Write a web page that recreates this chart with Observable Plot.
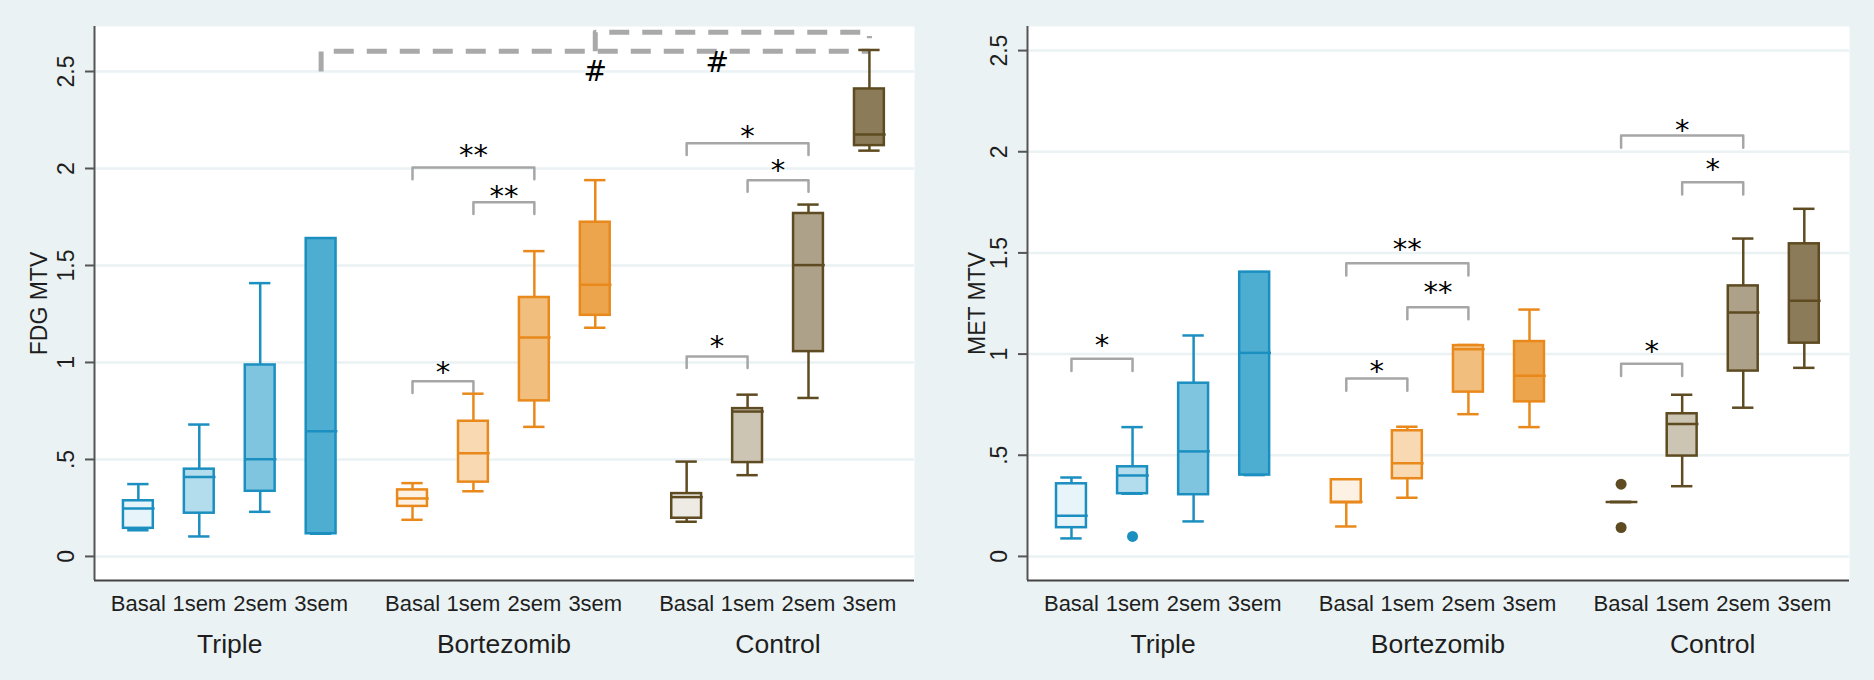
<!DOCTYPE html>
<html>
<head>
<meta charset="utf-8">
<script src="https://cdn.jsdelivr.net/npm/d3@7"></script>
<script src="https://cdn.jsdelivr.net/npm/@observablehq/plot@0.6"></script>
<style>
  html, body { margin: 0; padding: 0; background: #eaf2f3; }
  #charts { display: flex; width: 1874px; height: 680px; }
  #charts svg { display: block; flex: none; }
</style>
</head>
<body>
<div id="charts"></div>
<script>
// Treatment arms and imaging time points
const groups = ["Triple", "Bortezomib", "Control"];
const times = ["Basal", "1sem", "2sem", "3sem"];
const yTicks = [0, 0.5, 1, 1.5, 2, 2.5];

// FDG MTV box statistics, ordered Triple (Basal..3sem), Bortezomib, Control
const fdgLow    = [0.135, 0.103, 0.230, 0.117,  0.189, 0.336, 0.668, 1.179,  0.179, 0.419, 0.817, 2.092];
const fdgQ1     = [0.145, 0.223, 0.336, 0.117,  0.258, 0.383, 0.802, 1.243,  0.197, 0.484, 1.056, 2.118];
const fdgMedian = [0.247, 0.410, 0.501, 0.645,  0.299, 0.532, 1.129, 1.401,  0.306, 0.747, 1.502, 2.175];
const fdgQ3     = [0.287, 0.450, 0.987, 1.639,  0.343, 0.697, 1.335, 1.723,  0.324, 0.762, 1.768, 2.410];
const fdgHigh   = [0.373, 0.680, 1.409, 1.639,  0.378, 0.839, 1.574, 1.940,  0.489, 0.834, 1.814, 2.611];

// MET MTV box statistics, same order
const metLow    = [0.089, 0.310, 0.173, 0.402,  0.148, 0.290, 0.703, 0.639,  0.269, 0.347, 0.735, 0.932];
const metQ1     = [0.142, 0.310, 0.305, 0.402,  0.265, 0.384, 0.812, 0.764,  0.269, 0.496, 0.916, 1.054];
const metMedian = [0.201, 0.400, 0.519, 1.006,  0.270, 0.461, 1.024, 0.893,  0.269, 0.655, 1.206, 1.263];
const metQ3     = [0.359, 0.443, 0.856, 1.405,  0.379, 0.621, 1.042, 1.062,  0.269, 0.705, 1.337, 1.545];
const metHigh   = [0.390, 0.639, 1.092, 1.405,  0.379, 0.641, 1.045, 1.220,  0.269, 0.799, 1.571, 1.718];

// MET MTV outside values
const metOutlierGroup = ["Triple", "Control", "Control"];
const metOutlierTime  = ["1sem", "Basal", "Basal"];
const metOutlierValue = [0.099, 0.357, 0.143];

// Pairwise comparisons within an arm (bracket height and label height)
const fdgBracketGroup = ["Bortezomib", "Bortezomib", "Bortezomib", "Control", "Control", "Control"];
const fdgBracketFrom  = ["Basal", "Basal", "1sem", "Basal", "1sem", "Basal"];
const fdgBracketTo    = ["1sem", "2sem", "2sem", "1sem", "2sem", "2sem"];
const fdgBracketLevel = [0.903, 2.005, 1.826, 1.031, 1.940, 2.130];
const fdgBracketText  = ["*", "**", "**", "*", "*", "*"];
const fdgBracketTextAt = [0.978, 2.096, 1.885, 1.110, 2.018, 2.197];

const metBracketGroup = ["Triple", "Bortezomib", "Bortezomib", "Bortezomib", "Control", "Control", "Control"];
const metBracketFrom  = ["Basal", "Basal", "Basal", "1sem", "Basal", "1sem", "Basal"];
const metBracketTo    = ["1sem", "1sem", "2sem", "2sem", "1sem", "2sem", "2sem"];
const metBracketLevel = [0.977, 0.879, 1.449, 1.232, 0.952, 1.849, 2.080];
const metBracketText  = ["*", "*", "**", "**", "*", "*", "*"];
const metBracketTextAt = [1.070, 0.944, 1.545, 1.334, 1.040, 1.940, 2.133];

// Comparisons between arms at 3sem (FDG only)
const fdgHashGroup = ["Bortezomib", "Control"];
const fdgHashFrom  = ["3sem", "Basal"];
const fdgHashTo    = ["3sem", "1sem"];
const fdgHashAt    = [2.50, 2.55];

const fdgLinkPath  = [1, 1, 1, 2, 2, 2, 2];
const fdgLinkGroup = ["Triple", "Triple", "Control", "Bortezomib", "Bortezomib", "Control", "Control"];
const fdgLinkTime  = ["3sem", "3sem", "3sem", "3sem", "3sem", "3sem", "3sem"];
const fdgLinkValue = [2.50, 2.605, 2.605, 2.605, 2.703, 2.703, 2.672];

// Colours per arm: outline and the four time-point fills
const armStroke = ["#1b8fc0", "#e9891c", "#5e4b21"];
const armFill = [
  ["#e7f4fa", "#b3dcec", "#80c5e0", "#4eaed2"],
  ["#fdf1e3", "#f8d9b2", "#f2be7d", "#eca54c"],
  ["#eeebe5", "#cdc5b3", "#ada189", "#8c7b58"]
];

// Slot on the x axis: four time points per arm, half a slot between arms
const ARM_GAP = 0.5;
const slot = (g, t) => groups.indexOf(g) * (times.length + ARM_GAP) + times.indexOf(t);
const lastSlot = slot(groups[groups.length - 1], times[times.length - 1]);
const timeSlots = groups.flatMap(g => times.map(t => slot(g, t)));
const armCenters = groups.map(g => (slot(g, times[0]) + slot(g, times[times.length - 1])) / 2);

function boxes(low, q1, median, q3, high) {
  return groups.flatMap((g, gi) => times.map((t, ti) => {
    const i = gi * times.length + ti;
    return {x: slot(g, t), low: low[i], q1: q1[i], median: median[i], q3: q3[i], high: high[i],
            stroke: armStroke[gi], fill: armFill[gi][ti]};
  }));
}

function brackets(group, from, to, level, text, textAt) {
  return group.map((g, i) => ({id: i, x1: slot(g, from[i]), x2: slot(g, to[i]),
                               level: level[i], text: text[i], textAt: textAt[i]}));
}

const fmt = v => v === 0 ? "0" : String(v).replace(/^0\./, ".");

function panel({title, rows, outliers, comps, hashes, links, yDomain, marginLeft, marginRight, titleOffset}) {
  const BOX = 0.245, CAP = 0.175, DROP = 0.06;
  const bracketPts = comps.flatMap(c => [
    {id: c.id, x: c.x1, y: c.level - DROP}, {id: c.id, x: c.x1, y: c.level},
    {id: c.id, x: c.x2, y: c.level}, {id: c.id, x: c.x2, y: c.level - DROP}
  ]);
  const xDomain = [-0.72, lastSlot + 0.74];
  return Plot.plot({
    width: 937,
    height: 680,
    marginTop: 26,
    marginBottom: 100,
    marginLeft,
    marginRight,
    style: {background: "#eaf2f3", fontFamily: "'Liberation Sans', Arial, sans-serif", color: "#1e1e1e"},
    x: {domain: xDomain},
    y: {domain: yDomain},
    color: {type: "identity"},
    marks: [
      Plot.frame({fill: "white", stroke: null}),
      Plot.gridY(yTicks, {stroke: "#eaf2f3", strokeOpacity: 1, strokeWidth: 2.5}),
      Plot.ruleX([xDomain[0]], {stroke: "#555", strokeWidth: 2}),
      Plot.ruleY([yDomain[0]], {stroke: "#444", strokeWidth: 2}),
      Plot.axisY(yTicks, {tickFormat: fmt, tickSize: 9, tickPadding: 12, tickRotate: -90,
                          fontSize: 23, stroke: "#555", strokeWidth: 2, label: null}),
      Plot.axisX(timeSlots, {tickFormat: v => times[timeSlots.indexOf(v) % times.length],
                             tickSize: 0, tickPadding: 15, fontSize: 22, label: null}),
      Plot.axisX(armCenters, {tickFormat: v => groups[armCenters.indexOf(v)],
                              tickSize: 0, tickPadding: 54, fontSize: 26.5, label: null}),
      Plot.text([title], {frameAnchor: "left", textAnchor: "middle", text: d => d, rotate: -90,
                          dx: -titleOffset, fontSize: 23, fill: "#1e1e1e"}),
      // comparison brackets and their significance marks
      Plot.line(bracketPts, {x: "x", y: "y", z: "id", stroke: "#a6a6a6", strokeWidth: 2.5,
                             strokeLinejoin: "round"}),
      Plot.text(comps, {x: d => (d.x1 + d.x2) / 2, y: "textAt", text: "text", dy: 6,
                        fontSize: 29, fontFamily: "'DejaVu Sans', sans-serif", fill: "black"}),
      Plot.line(links, {x: "x", y: "y", z: "path", stroke: "#a9a9a9", strokeWidth: 5,
                        strokeDasharray: "20,13", strokeLinejoin: "round", strokeLinecap: "butt"}),
      Plot.text(hashes, {x: "x", y: "y", text: () => "#", dy: 1,
                         fontSize: 28, fontFamily: "'DejaVu Sans', sans-serif", fill: "black"}),
      // box plots
      Plot.ruleX(rows, {x: "x", y1: "low", y2: "high", stroke: "stroke", strokeWidth: 2.5}),
      Plot.ruleY(rows, {y: "low", x1: d => d.x - CAP, x2: d => d.x + CAP, stroke: "stroke", strokeWidth: 2.5}),
      Plot.ruleY(rows, {y: "high", x1: d => d.x - CAP, x2: d => d.x + CAP, stroke: "stroke", strokeWidth: 2.5}),
      Plot.rect(rows, {x1: d => d.x - BOX, x2: d => d.x + BOX, y1: "q1", y2: "q3",
                       fill: "fill", stroke: "stroke", strokeWidth: 2.5}),
      Plot.ruleY(rows, {y: "median", x1: d => d.x - BOX, x2: d => d.x + BOX + 0.03,
                        stroke: "stroke", strokeWidth: 2.5}),
      Plot.dot(outliers, {x: "x", y: "y", r: 5.5, fill: "fill", stroke: null})
    ]
  });
}

const fdgRows = boxes(fdgLow, fdgQ1, fdgMedian, fdgQ3, fdgHigh);
const metRows = boxes(metLow, metQ1, metMedian, metQ3, metHigh);

const fdg = panel({
  title: "FDG MTV",
  rows: fdgRows,
  outliers: [],
  comps: brackets(fdgBracketGroup, fdgBracketFrom, fdgBracketTo, fdgBracketLevel, fdgBracketText, fdgBracketTextAt),
  hashes: fdgHashGroup.map((g, i) => ({x: (slot(g, fdgHashFrom[i]) + slot(g, fdgHashTo[i])) / 2, y: fdgHashAt[i]})),
  links: fdgLinkPath.map((p, i) => ({path: p, x: slot(fdgLinkGroup[i], fdgLinkTime[i]), y: fdgLinkValue[i]})),
  yDomain: [-0.124, 2.732],
  marginLeft: 94,
  marginRight: 23,
  titleOffset: 54.5
});

const met = panel({
  title: "MET MTV",
  rows: metRows,
  outliers: metOutlierGroup.map((g, i) => ({x: slot(g, metOutlierTime[i]), y: metOutlierValue[i],
                                            fill: armStroke[groups.indexOf(g)]})),
  comps: brackets(metBracketGroup, metBracketFrom, metBracketTo, metBracketLevel, metBracketText, metBracketTextAt),
  hashes: [],
  links: [],
  yDomain: [-0.119, 2.619],
  marginLeft: 90,
  marginRight: 25,
  titleOffset: 49.5
});

document.getElementById("charts").append(fdg, met);
</script>
</body>
</html>
